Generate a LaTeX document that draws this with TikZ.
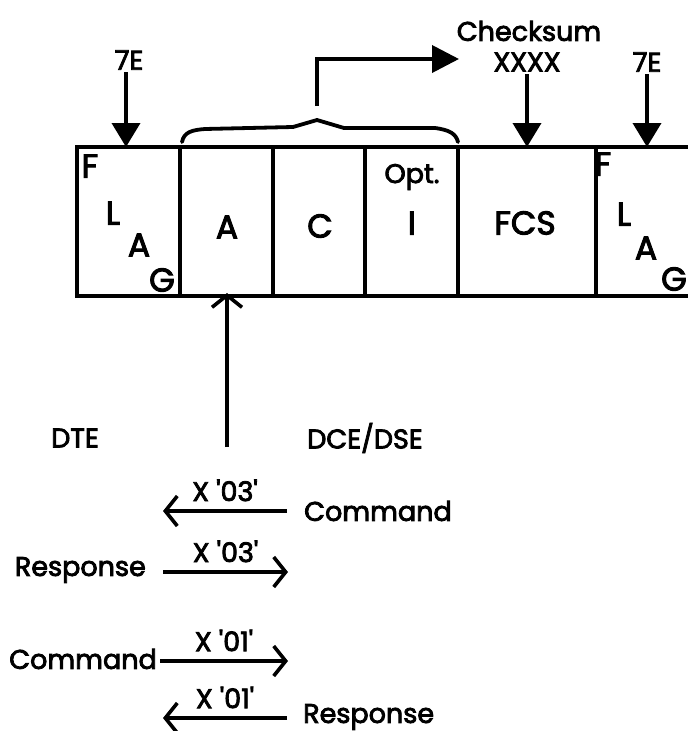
\documentclass[tikz,border=0pt]{standalone}
\usepackage{fontspec}
\newfontfamily\pop{Poppins}[FakeBold=3]
\usetikzlibrary{arrows.meta}
\tikzset{
  lbl/.style={inner sep=0pt, font=\pop\fontsize{27}{30}\selectfont},
  big/.style={inner sep=0pt, font=\pop\fontsize{33}{36}\selectfont},
  frame/.style={line width=3.8pt, line cap=round},
  fillarrow/.style={line width=3.8pt, -{Triangle[length=24pt,width=28pt]}},
  openarrow/.style={line width=3.6pt, -{Straight Barb[length=12pt,width=30pt,line width=3.6pt]}},
}
\begin{document}
\begin{tikzpicture}[x=1pt,y=-1pt]
\useasboundingbox (0,0) rectangle (688,731);
% frame
\draw[frame] (688,147) -- (77,147) -- (77,296) -- (688,296);
\foreach \x in {180,273,365,458,596} \draw[frame] (\x,147) -- (\x,296);
% field texts
\node[big] (f1) at (90,166) {F};
\node[big] (l1) at (113,213) {L};
\node[big] (a1) at (139,245) {A};
\node[big] (g1) at (162,280) {G};
\node[big] (fa) at (227,227) {A};
\node[big] (fc) at (320,226) {C};
\node[lbl] (opt) at (412,177) {Opt.};
\node[big] (fi) at (412,223) {I};
\node[big] (fcs) at (525,223) {FCS};
\node[big] (f2) at (603,164) {F};
\node[big] (l2) at (624,214) {L};
\node[big] (a2) at (646,248) {A};
\node[big] (g2) at (674,279) {G};
% top labels
\node[lbl] (e1) at (129,60) {7E};
\node[lbl] (cks) at (529,31) {Checksum};
\node[lbl] (xx) at (527,62) {XXXX};
\node[lbl] (e2) at (647,62) {7E};
\coordinate (t1) at (126,147);
\coordinate (t2) at (527,147);
\coordinate (t3) at (647,147);
\coordinate (s1) at (126,72);
\coordinate (s2) at (527,74);
\coordinate (s3) at (647,74);
\draw[fillarrow] (s1) -- (t1);
\draw[fillarrow] (s2) -- (t2);
\draw[fillarrow] (s3) -- (t3);
% brace
\draw[frame] (182,142) .. controls (184,132) and (192,130) .. (205,129)
  -- (293,127) .. controls (305,124) .. (317,120) .. controls (330,124) .. (344,128)
  -- (435,128) .. controls (450,130) and (456,134) .. (458,142);
\coordinate (bp) at (317,106);
\coordinate (bt) at (459,59);
\draw[frame, line cap=butt, -{Triangle[length=27pt,width=27pt]}] (bp) |- (bt);
% up arrow
\coordinate (up) at (227,293);
\coordinate (upb) at (227,447);
\draw[openarrow] (upb) -- (up);
% DTE/DCE
\node[lbl] (dte) at (75,438) {DTE};
\node[lbl] (dce) at (365,438) {DCE/DSE};
% exchanges
\node[lbl, anchor=west] (c1) at (304,511) {Command};
\coordinate (c1s) at (287,511);
\coordinate (c1e) at (163,511);
\draw[openarrow] (c1s) -- node[lbl, above=8pt, pos=0.5] (x1) {X '03'} (c1e);
\node[lbl, anchor=east] (r1) at (146,570) {Response};
\coordinate (r1s) at (163,572);
\coordinate (r1e) at (288,572);
\draw[openarrow] (r1s) -- node[lbl, above=8pt] (x2) {X '03'} (r1e);
\node[lbl, anchor=east] (c2) at (157,659) {Command};
\coordinate (c2s) at (160,661);
\coordinate (c2e) at (288,661);
\draw[openarrow] (c2s) -- node[lbl, above=8pt] (x3) {X '01'} (c2e);
\node[lbl, anchor=west] (r2) at (303,717) {Response};
\coordinate (r2s) at (287,718);
\coordinate (r2e) at (163,718);
\draw[openarrow] (r2s) -- node[lbl, above=8pt] (x4) {X '01'} (r2e);
\end{tikzpicture}
\end{document}
